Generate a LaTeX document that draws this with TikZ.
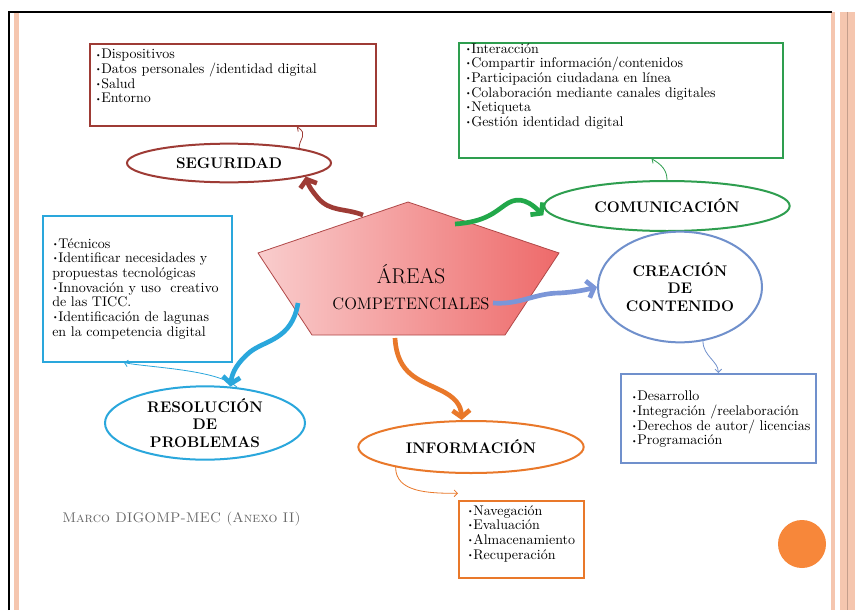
\documentclass[tikz,border=0pt]{standalone}
\usepackage{amsmath}
\usepackage{xcolor}
\usetikzlibrary{shapes.geometric,arrows.meta,positioning}
\definecolor{segred}{HTML}{9E3B35}
\definecolor{comgreen}{HTML}{2E9E4F}
\definecolor{comarrow}{HTML}{22A84A}
\definecolor{creblue}{HTML}{7090CC}
\definecolor{crearrow}{HTML}{7B96D8}
\definecolor{rescyan}{HTML}{2AA7DC}
\definecolor{infoorange}{HTML}{E9782A}
\definecolor{dotorange}{HTML}{F7873A}
\definecolor{stripe}{HTML}{F5C6AF}
\definecolor{pentleft}{HTML}{F9CDCD}
\definecolor{pentright}{HTML}{EE6A6A}
\definecolor{pentline}{HTML}{B04848}
\newcommand{\bul}{\raisebox{0.3ex}{\scalebox{0.55}{\textbullet}}}

\begin{document}
\begin{tikzpicture}[x=0.75pt,y=0.75pt,yscale=-1,xscale=1,
	lbox/.style={draw,line width=1.2pt,anchor=north west,inner sep=0pt},
	listtxt/.style={anchor=north west,inner sep=0pt,align=left,font=\fontsize{10.5}{11}\selectfont},
	ell/.style={ellipse,draw,line width=1.5pt,inner sep=0pt,align=center,font=\bfseries\fontsize{11.5}{13}\selectfont},
	heavy/.style={line width=3.5pt,-{Straight Barb[length=5pt,width=13pt]}},
	link/.style={line width=0.6pt,-{Straight Barb[length=2.5pt,width=5pt]}}]
	\fill[white] (0,0) rectangle (855,610);
	\useasboundingbox (0,0) rectangle (855,610);
	% page frame
	\fill[stripe] (14,12) rectangle (19,610);
	\fill[stripe] (831,12) rectangle (835,610);
	\fill[stripe] (840,12) rectangle (855,610);
	\draw[stripe!80!black,line width=0.6pt] (847.5,12) -- (847.5,610);
	\draw[line width=0.8pt] (9,610) -- (9,12) -- (832,12);
	% central pentagon
	\coordinate (pt) at (408,202);
	\coordinate (pl) at (258,253);
	\coordinate (pr) at (559,253);
	\coordinate (pbl) at (312,335);
	\coordinate (pbr) at (505,335);
	\draw[pentline,line width=0.6pt,left color=pentleft,right color=pentright] (pt) -- (pr) -- (pbr) -- (pbl) -- (pl) -- cycle;
	\node[inner sep=0pt,align=center,font=\fontsize{16}{17}\selectfont] (areas) at (411,287) {ÁREAS\\[3pt]{\fontsize{12.5}{13}\selectfont COMPETENCIALES}};
	% boxes
	\node[lbox,segred,minimum width=214.5pt,minimum height=61.5pt] (segbox) at (89,43) {};
	\node[lbox,comgreen,minimum width=243pt,minimum height=86.25pt] (combox) at (458,42) {};
	\node[lbox,rescyan,minimum width=141.75pt,minimum height=109.5pt] (resbox) at (42,215) {};
	\node[lbox,creblue,minimum width=146.25pt,minimum height=66.75pt] (crebox) at (620,373) {};
	\node[lbox,infoorange,minimum width=93.75pt,minimum height=57.75pt] (infbox) at (458,500) {};
	\node[listtxt] (segtxt) at ([shift={(6,6)}]segbox.north west) {\bul Dispositivos\\\bul Datos personales /identidad digital\\\bul Salud\\\bul Entorno};
	\node[listtxt] (comtxt) at ([shift={(7,1)}]combox.north west) {\bul Interacción\\\bul Compartir información/contenidos\\\bul Participación ciudadana en línea\\\bul Colaboración mediante canales digitales\\\bul Netiqueta\\\bul Gestión identidad digital};
	\node[listtxt] (restxt) at ([shift={(10,23)}]resbox.north west) {\bul Técnicos\\\bul Identificar necesidades y\\propuestas tecnológicas\\\bul Innovación y uso\ \ creativo\\de las TICC.\\\bul Identificación de lagunas\\en la competencia digital};
	\node[listtxt] (cretxt) at ([shift={(11,18)}]crebox.north west) {\bul Desarrollo\\\bul Integración /reelaboración\\\bul Derechos de autor/ licencias\\\bul Programación};
	\node[listtxt] (inftxt) at ([shift={(9,5)}]infbox.north west) {\bul Navegación\\\bul Evaluación\\\bul Almacenamiento\\\bul Recuperación};
	% ellipses
	\node[ell,segred,minimum width=153pt,minimum height=29pt] (segell) at (229,163) {\color{black}SEGURIDAD};
	\node[ell,comgreen,minimum width=184pt,minimum height=37.5pt] (comell) at (667,206) {\color{black}COMUNICACIÓN};
	\node[ell,creblue,minimum width=123pt,minimum height=83pt] (creell) at (680,287) {\color{black}CREACIÓN\\\color{black}DE\\\color{black}CONTENIDO};
	\node[ell,rescyan,minimum width=150pt,minimum height=55pt] (resell) at (205,423) {\color{black}RESOLUCIÓN\\\color{black}DE\\\color{black}PROBLEMAS};
	\node[ell,infoorange,minimum width=169pt,minimum height=39pt] (infell) at (471,447) {\color{black}INFORMACIÓN};
	% thin links
	\draw[link,segred] (segell.12) .. controls +(0,-10) and +(12,8) .. ([xshift=48pt]segbox.south);
	\draw[link,comgreen] (comell.north) .. controls +(0,-10) and +(10,6) .. ([xshift=23pt]combox.south);
	\draw[link,creblue] (creell.-67) .. controls +(0,15) and +(0,-12) .. (crebox.north);
	\draw[link,infoorange] (infell.-165) .. controls +(0,25) and +(-30,0) .. ([yshift=-5pt]infbox.north west);
	\draw[link,rescyan] (resell.48) .. controls +(-20,-18) and +(25,5) .. ([xshift=-10pt]resbox.south);
	% heavy arrows
	\coordinate (segstart) at (363,215);
	\coordinate (comstart) at (455,224);
	\coordinate (crestart) at (493,303);
	\coordinate (resstart) at (298,303);
	\coordinate (infstart) at (395,338);
	\draw[heavy,segred] (segstart) .. controls (345,208) and (330,212) .. (318,198) .. controls (313,192) and (309,187) .. (segell.-10);
	\draw[heavy,comarrow] (comstart) .. controls (485,222) and (495,212) .. (505,205) .. controls (515,198) and (525,197) .. ([yshift=7pt]comell.west);
	\draw[heavy,crearrow] (crestart) .. controls (520,305) and (535,293) .. (560,293) .. controls (575,292) and (585,290) .. (creell.west);
	\draw[heavy,rescyan] (resstart) .. controls (292,340) and (265,340) .. (250,352) .. controls (238,362) and (232,372) .. (resell.55);
	\draw[heavy,infoorange] (infstart) .. controls (397,375) and (420,380) .. (440,390) .. controls (455,397) and (461,405) .. ([xshift=-7pt]infell.north);
	% caption and dot
	\node[anchor=west,inner sep=0pt,text=black!60,font=\fontsize{10.5}{12}\selectfont] (caption) at (62,519) {\textsc{Marco DIGOMP-MEC (Anexo II)}};
	\fill[dotorange] (802,544) circle (24);
\end{tikzpicture}
\end{document}
